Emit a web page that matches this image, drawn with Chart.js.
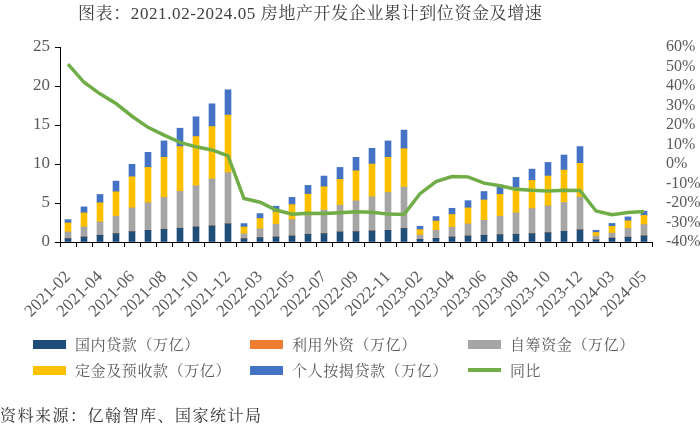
<!DOCTYPE html>
<html><head><meta charset="utf-8">
<script src="https://cdn.jsdelivr.net/npm/chart.js@4.4.1/dist/chart.umd.min.js"></script>
<style>
html,body{margin:0;padding:0;background:#fff;}
#wrap{position:relative;width:700px;height:430px;overflow:hidden;background:#fff;}
#c{position:absolute;left:0;top:0;}
#title{position:absolute;left:78px;top:3px;font-size:17px;font-family:"Liberation Serif","Noto Serif CJK SC",serif;color:#404040;letter-spacing:0.6px;white-space:nowrap;line-height:22px;}
.li{position:absolute;display:flex;align-items:center;font-size:15px;font-family:"Noto Serif CJK SC",serif;color:#595959;letter-spacing:0.6px;white-space:nowrap;height:22px;line-height:22px;}
.sw{width:33px;height:9px;margin-right:9px;flex:none;}
.ln{width:33px;height:4px;margin-right:9px;flex:none;}
#src{position:absolute;left:0;top:404px;font-size:16px;font-family:"Noto Serif CJK SC",serif;color:#333;letter-spacing:1.5px;white-space:nowrap;line-height:22px;}
</style></head>
<body><div id="wrap"><canvas id="c" width="700" height="430"></canvas>
<div id="title">图表：2021.02-2024.05 房地产开发企业累计到位资金及增速</div>
<div id="legend"></div>
<div id="src">资料来源：亿翰智库、国家统计局</div></div>
<script>
const categories = [
  '2021-02','2021-03','2021-04','2021-05','2021-06','2021-07','2021-08','2021-09','2021-10','2021-11','2021-12',
  '2022-02','2022-03','2022-04','2022-05','2022-06','2022-07','2022-08','2022-09','2022-10','2022-11','2022-12',
  '2023-02','2023-03','2023-04','2023-05','2023-06','2023-07','2023-08','2023-09','2023-10','2023-11','2023-12',
  '2024-02','2024-03','2024-04','2024-05'
];
// 国内贷款（万亿）
const domesticLoans = [
  0.43,0.64,0.86,1.07,1.33,1.50,1.63,1.76,1.93,2.06,2.33,
  0.42,0.56,0.64,0.77,0.99,1.07,1.29,1.33,1.42,1.50,1.74,
  0.34,0.47,0.64,0.77,0.86,0.94,0.99,1.07,1.20,1.37,1.56,
  0.28,0.50,0.62,0.78
];
// 利用外资（万亿）
const foreignCapital = [
  0.001,0.002,0.004,0.005,0.006,0.007,0.007,0.008,0.009,0.010,0.011,
  0.001,0.002,0.003,0.003,0.004,0.005,0.005,0.006,0.006,0.007,0.008,
  0.001,0.001,0.002,0.002,0.002,0.003,0.003,0.003,0.004,0.004,0.005,
  0.001,0.001,0.001,0.002
];
// 自筹资金（万亿）
const selfRaised = [
  0.86,1.29,1.71,2.23,3.04,3.52,4.07,4.72,5.27,6.00,6.54,
  0.62,1.12,1.63,2.09,2.40,3.00,3.43,3.94,4.37,4.85,5.29,
  0.55,1.03,1.25,1.55,1.93,2.36,2.74,3.22,3.43,3.69,4.20,
  0.48,0.64,1.10,1.45
];
// 定金及预收款（万亿）
const deposits = [
  1.15,1.80,2.45,3.13,3.99,4.54,5.15,5.74,6.31,6.73,7.39,
  0.88,1.33,1.59,1.93,2.74,3.01,3.30,3.86,4.20,4.50,4.93,
  0.70,1.18,1.63,2.05,2.60,2.80,3.20,3.60,3.82,4.16,4.32,
  0.46,0.86,1.00,1.18
];
// 个人按揭贷款（万亿）
const mortgages = [
  0.43,0.77,1.07,1.37,1.59,1.93,2.10,2.36,2.53,2.92,3.24,
  0.44,0.63,0.73,0.93,1.12,1.37,1.54,1.72,2.02,2.10,2.38,
  0.43,0.58,0.80,0.93,1.08,1.20,1.35,1.45,1.75,1.93,2.15,
  0.28,0.38,0.50,0.54
];
// 同比（%）
const yoy = [
  51.2,41.9,36.0,31.0,24.5,18.8,14.8,11.1,8.8,7.2,4.2,
  -17.7,-19.6,-23.6,-25.8,-25.3,-25.4,-25.0,-24.5,-24.7,-25.7,-25.9,
  -15.2,-9.0,-6.4,-6.6,-9.8,-11.2,-12.9,-13.5,-13.8,-13.4,-13.6,
  -24.1,-26.0,-24.9,-24.3
];
const leftTicks = [0,5,10,15,20,25];
const rightTicks = [-40,-30,-20,-10,0,10,20,30,40,50,60];

const seriesNames = ['国内贷款（万亿）','利用外资（万亿）','自筹资金（万亿）','定金及预收款（万亿）','个人按揭贷款（万亿）','同比'];
const colors = ['#1F4E79','#ED7D31','#A5A5A5','#FFC000','#4472C4','#70AD47'];
const barSeries = [domesticLoans, foreignCapital, selfRaised, deposits, mortgages];

const serif = '"Liberation Serif", serif';
const datasets = barSeries.map((d,i)=>({
  type:'bar', label:seriesNames[i], data:d, backgroundColor:colors[i],
  stack:'s', yAxisID:'y', order:1, barThickness:6, borderWidth:0
}));
datasets.push({
  type:'line', label:seriesNames[5], data:yoy, borderColor:colors[5], backgroundColor:colors[5],
  borderWidth:3.5, pointRadius:0, tension:0, fill:false, yAxisID:'y1', order:0
});

const chart = new Chart(document.getElementById('c'), {
  data:{labels:categories, datasets},
  options:{
    responsive:false, animation:false, devicePixelRatio:1,
    layout:{padding:{top:47,left:0,right:0,bottom:88}},
    plugins:{legend:{display:false}, tooltip:{enabled:false}, title:{display:false}},
    scales:{
      x:{
        stacked:true, offset:true,
        grid:{display:true, drawOnChartArea:false, drawTicks:true, tickLength:5, color:'#000', offset:true},
        border:{display:true, color:'#000', width:1},
        ticks:{autoSkip:false, maxRotation:45, minRotation:45, padding:20, color:'#595959',
          font:{family:serif, size:17},
          callback:function(v,i){return i%2===0 ? this.getLabelForValue(v) : '';}},
        afterFit:(a)=>{a.height=100;}
      },
      y:{
        stacked:true, position:'left', min:leftTicks[0], max:leftTicks[leftTicks.length-1],
        afterBuildTicks:(a)=>{a.ticks=leftTicks.map(v=>({value:v}));},
        grid:{display:true, drawOnChartArea:false, drawTicks:true, tickLength:5, color:'#000'},
        border:{display:true, color:'#000', width:1},
        ticks:{autoSkip:false, padding:5, color:'#595959', font:{family:serif, size:17}},
        afterFit:(a)=>{a.width=60;}
      },
      y1:{
        position:'right', min:rightTicks[0], max:rightTicks[rightTicks.length-1],
        afterBuildTicks:(a)=>{a.ticks=rightTicks.map(v=>({value:v}));},
        grid:{display:false}, border:{display:false},
        ticks:{autoSkip:false, padding:6, color:'#595959', font:{family:serif, size:16},
          callback:(v)=>v+'%'},
        afterFit:(a)=>{a.width=48;}
      }
    }
  }
});

// HTML legend built from chart datasets
const lg = document.getElementById('legend');
const cols = [33,250,468], rows = [333,359];
chart.data.datasets.forEach((ds,i)=>{
  const el = document.createElement('div');
  el.className='li';
  el.style.left = cols[i%3]+'px';
  el.style.top = rows[Math.floor(i/3)]+'px';
  const s = document.createElement('span');
  s.className = ds.type==='line' ? 'ln' : 'sw';
  s.style.background = ds.type==='line' ? ds.borderColor : ds.backgroundColor;
  el.appendChild(s);
  el.appendChild(document.createTextNode(ds.label));
  lg.appendChild(el);
});
</script>
</body></html>
